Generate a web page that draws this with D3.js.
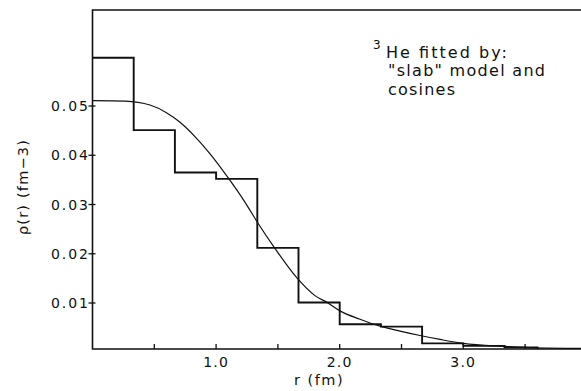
<!DOCTYPE html>
<html>
<head>
<meta charset="utf-8">
<script src="https://cdn.jsdelivr.net/npm/d3@7"></script>
<style>
  html, body { margin: 0; padding: 0; background: #fff; }
  svg { display: block; }
  text { font-family: "DejaVu Sans", sans-serif; fill: #111; }
</style>
</head>
<body>
<svg id="chart" width="581" height="391"></svg>
<script>
// Histogram ("slab" model) bin edges and densities
const stepEdges = [0, 1/3, 2/3, 1, 4/3, 5/3, 2, 7/3, 8/3, 3, 10/3, 3.6];
const stepValues = [0.0598, 0.0451, 0.0365, 0.0352, 0.0212, 0.0101, 0.0057, 0.0052, 0.0018, 0.0013, 0.0010];

// Smooth cosine-fit curve
const curveR   = [0, 0.263, 0.465, 0.595, 0.708, 0.829, 0.951, 1.104, 1.233, 1.339, 1.476, 1.654, 1.800, 1.905, 2.002, 2.164, 2.326, 2.488, 2.650, 2.812, 2.998, 3.34, 3.596, 3.952];
const curveRho = [0.0511, 0.0510, 0.0502, 0.0487, 0.0467, 0.0438, 0.0403, 0.0352, 0.0305, 0.0262, 0.0211, 0.0151, 0.0115, 0.0100, 0.0084, 0.0067, 0.0053, 0.0043, 0.0034, 0.0026, 0.0018, 0.0012, 0.0009, 0.0008];

const xTicks = [0.5, 1.0, 1.5, 2.0, 2.5, 3.0, 3.5];
const xTickLabels = ["1.0", "2.0", "3.0"];
const yTicks = [0.01, 0.02, 0.03, 0.04, 0.05];

const svg = d3.select("#chart");
const mLeft = 92.5, mRight = 581, mTop = 10, mBottom = 349;
const x = d3.scaleLinear().domain([0, 4]).range([mLeft, mLeft + 4 * 123.6]);
const y = d3.scaleLinear().domain([0.00066, 0.0695]).range([mBottom, mTop]);

// Frame: left axis, top line, bottom axis
svg.append("path")
  .attr("d", `M${mRight},${mTop}H${mLeft}V${mBottom}H${mRight}`)
  .attr("fill", "none").attr("stroke", "#111").attr("stroke-width", 1.6);

// x ticks (inward)
svg.selectAll(".xt").data(xTicks).enter().append("line")
  .attr("x1", d => x(d)).attr("x2", d => x(d))
  .attr("y1", mBottom).attr("y2", mBottom - 5)
  .attr("stroke", "#111").attr("stroke-width", 1.3);

svg.selectAll(".xl").data(xTickLabels).enter().append("text")
  .attr("x", d => x(+d)).attr("y", 367)
  .attr("text-anchor", "middle")
  .attr("font-size", 14).attr("letter-spacing", 1.2)
  .text(d => d);

// y ticks
svg.selectAll(".yt").data(yTicks).enter().append("line")
  .attr("x1", mLeft - 4).attr("x2", mLeft + 3)
  .attr("y1", d => y(d)).attr("y2", d => y(d))
  .attr("stroke", "#111").attr("stroke-width", 1.3);

svg.selectAll(".yl").data(yTicks).enter().append("text")
  .attr("x", 88).attr("y", d => y(d))
  .attr("dy", "0.36em")
  .attr("text-anchor", "end")
  .attr("font-size", 14)
  .attr("textLength", 37).attr("lengthAdjust", "spacing")
  .text(d => d.toFixed(2));

// Axis titles
svg.append("text")
  .attr("x", 319).attr("y", 385)
  .attr("text-anchor", "middle").attr("font-size", 14.5)
  .attr("letter-spacing", 1.5)
  .text("r (fm)");

svg.append("text")
  .attr("transform", "translate(28,187) rotate(-90)")
  .attr("text-anchor", "middle").attr("font-size", 14.5)
  .attr("letter-spacing", 1.2)
  .text("\u03C1(r)  (fm\u22123)");

// Step function
const stepPts = [];
stepValues.forEach((v, i) => {
  stepPts.push([stepEdges[i], v]);
  stepPts.push([stepEdges[i + 1], v]);
});
stepPts.push([stepEdges[stepEdges.length - 1], 0.00066]);
svg.append("path")
  .datum(stepPts)
  .attr("d", d3.line().x(d => x(d[0])).y(d => y(d[1])))
  .attr("fill", "none").attr("stroke", "#111").attr("stroke-width", 1.9);

// Smooth curve
const curvePts = curveR.map((r, i) => [r, curveRho[i]]);
svg.append("path")
  .datum(curvePts)
  .attr("d", d3.line().x(d => x(d[0])).y(d => y(d[1])).curve(d3.curveMonotoneX))
  .attr("fill", "none").attr("stroke", "#111").attr("stroke-width", 1.2);

// Annotation
const ann = svg.append("g").attr("font-size", 16);
ann.append("text").attr("x", 373).attr("y", 49).attr("font-size", 12).text("3");
ann.append("text").attr("x", 386).attr("y", 58)
  .attr("textLength", 121).attr("lengthAdjust", "spacing")
  .text("He  fitted by:");
ann.append("text").attr("x", 388).attr("y", 76)
  .attr("textLength", 157).attr("lengthAdjust", "spacing")
  .text("\"slab\"  model  and");
ann.append("text").attr("x", 388).attr("y", 95)
  .attr("textLength", 67).attr("lengthAdjust", "spacing")
  .text("cosines");
</script>
</body>
</html>
